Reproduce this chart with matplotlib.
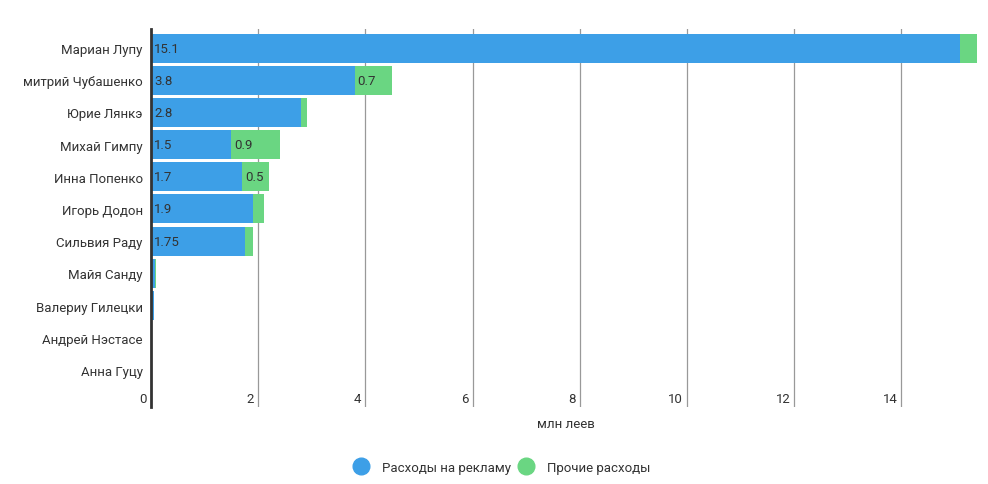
import numpy as np
import matplotlib.pyplot as plt
from matplotlib.lines import Line2D
import matplotlib.transforms as mtrans

plt.rcParams['font.family'] = ['Roboto', 'DejaVu Sans']

names = ["Мариан Лупу", "митрий Чубашенко", "Юрие Лянкэ", "Михай Гимпу",
         "Инна Попенко", "Игорь Додон", "Сильвия Раду", "Майя Санду",
         "Валериу Гилецки", "Андрей Нэстасе", "Анна Гуцу"]
ads = [15.1, 3.8, 2.8, 1.5, 1.7, 1.9, 1.75, 0.08, 0.05, 0.0, 0.0]
other = [0.3, 0.7, 0.11, 0.9, 0.5, 0.2, 0.15, 0.01, 0.0, 0.0, 0.0]
ads_lbl = ["15.1", "3.8", "2.8", "1.5", "1.7", "1.9", "1.75", "", "", "", ""]
other_lbl = ["", "0.7", "", "0.9", "0.5", "", "", "", "", "", ""]
xticks = [0, 2, 4, 6, 8, 10, 12, 14]

blue = "#3d9fe7"
green = "#6ad682"
txt = "#333333"

fig = plt.figure(figsize=(9.88, 4.85), dpi=100)
ax = fig.add_axes([0.1528, 0.159, 0.841, 0.779])

y = np.arange(len(names))
ads = np.array(ads)
other = np.array(other)
ax.barh(y, ads, height=0.9, color=blue, zorder=3)
ax.barh(y, other, left=ads, height=0.9, color=green, zorder=3)

off = mtrans.offset_copy(ax.transData, fig=fig, x=3, y=0, units='dots')
for i in range(len(names)):
    if ads_lbl[i]:
        ax.text(0, i, ads_lbl[i], transform=off, ha='left', va='center',
                fontsize=9.5, color=txt, zorder=4)
    if other_lbl[i]:
        ax.text(ads[i], i, other_lbl[i], transform=off, ha='left', va='center',
                fontsize=9.5, color=txt, zorder=4)

ax.set_xlim(0, 15.5)
ax.set_ylim(len(names) - 1 + 1.15, -0.59)

for s in ['top', 'right', 'bottom']:
    ax.spines[s].set_visible(False)
ax.spines['left'].set_color('#333333')
ax.spines['left'].set_linewidth(2)
ax.spines['left'].set_zorder(5)

for xv in xticks[1:]:
    ax.axvline(xv, color='#999999', linewidth=0.9, zorder=1)

ax.set_xticks([])
ax.set_yticks(y)
ax.set_yticklabels(names, fontsize=9.5, color=txt)
ax.tick_params(axis='y', length=0, pad=6)

# x tick labels sit inside the plot, just left of each gridline
bt = mtrans.blended_transform_factory(ax.transData, ax.transAxes)
boff = mtrans.offset_copy(bt, fig=fig, x=-4, y=0, units='dots')
for xv in xticks:
    ax.text(xv, 0.021, str(xv), transform=boff, ha='right', va='center',
            fontsize=9.5, color=txt)

fig.text(0.573, 0.125, "млн леев", ha='center', va='center', fontsize=9.5, color=txt)

handles = [Line2D([], [], marker='o', linestyle='', markersize=12, color=blue),
           Line2D([], [], marker='o', linestyle='', markersize=12, color=green)]
fig.legend(handles, ["Расходы на рекламу", "Прочие расходы"], loc='center',
           bbox_to_anchor=(0.505, 0.035), ncol=2, frameon=False, fontsize=9.5,
           handletextpad=0.6, columnspacing=0.1, labelcolor=txt)

fig.savefig("out.png", dpi=100)
